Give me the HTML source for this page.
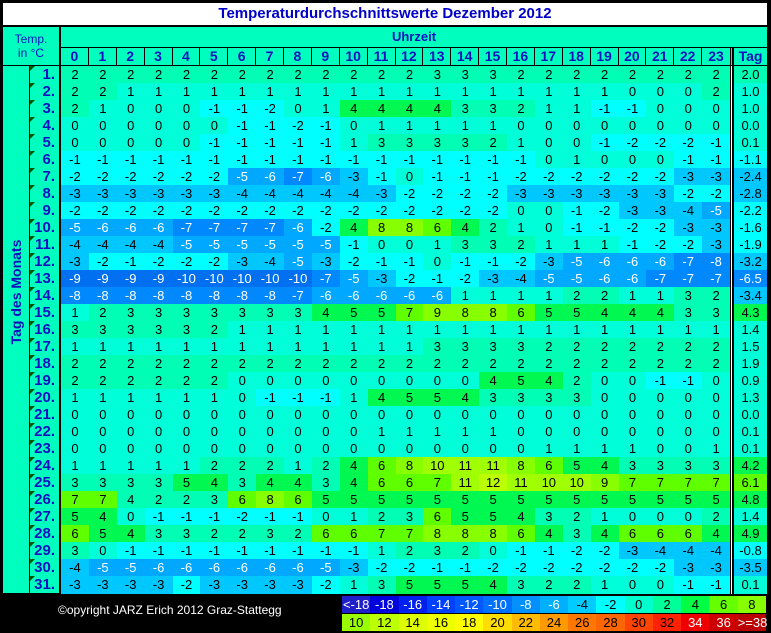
<!DOCTYPE html>
<html><head><meta charset="utf-8"><style>
*{margin:0;padding:0;box-sizing:border-box}
body{width:771px;height:633px;background:#000;position:relative;overflow:hidden;font-family:"Liberation Sans",Arial,sans-serif}
.abs{position:absolute}
#title{left:3px;top:3px;width:764px;height:22px;background:#fff;color:#0000C8;font-weight:bold;font-size:15px;text-align:center;line-height:22px}
#tl{left:3px;top:27px;width:56px;height:38px;background:#00FFBF;color:#1010C0;font-size:12px;text-align:center;line-height:14px;padding-top:5px}
#uz{left:61px;top:27px;width:706px;height:20px;background:#00FFBF;color:#1010C0;font-weight:bold;font-size:13px;text-align:center;line-height:20px}
#hr{left:61px;top:48px;height:17px;display:grid;grid-template-columns:repeat(24,27.875px) 4px 33px}
#hr span{background:#00FFBF;color:#1010C0;font-weight:bold;font-size:14px;text-align:center;line-height:17px;border-right:1px solid #000}
#hr span:nth-child(24){border-right:none}
#hr em{background:linear-gradient(90deg,#000 0 1px,#00FFBF 1px 2px,#000 2px)}
#hr span.tg{border-right:none}
#vl{left:3px;top:66px;width:26px;height:527px;background:#00FFBF}
#vt{left:16px;top:292px;transform:translate(-50%,-50%) rotate(-90deg);color:#1010C0;font-weight:bold;font-size:14px;white-space:nowrap}
.r{position:absolute;left:30px;height:17px;display:grid;grid-template-columns:29px 2px repeat(24,27.875px) 4px 33px;font-size:13px;line-height:17px;text-align:center;color:#000}
.r>b{background:#00FFBF;color:#1010C0;font-size:15px;text-align:right;padding-right:4px;border-bottom:1px solid #000;position:relative;line-height:17px}
.r>b::before{content:"";position:absolute;left:0;top:0;border-top:5px solid #005500;border-right:5px solid transparent}
.r>i{background:#000}
.r>em{background:linear-gradient(90deg,#000 0 1px,#fff 1px 2px,#000 2px)}
.a{background:#0070F0;color:#fff}.b{background:#0088FF;color:#fff}.c{background:#00A8FF;color:#fff}
.d{background:#00C8FF}.e{background:#00FFFF}.f{background:#00FFD8}.g{background:#00FFB4}
.h{background:#00F850}.i{background:#60FF00}.j{background:#88FF00}.k{background:#A0FF00}.l{background:#BBFF00}
#copy{left:58px;top:603px;color:#fff;font-size:12px}
.lg{position:absolute;left:342px;height:17px;display:grid;grid-template-columns:repeat(15,28.27px);font-size:13px;line-height:17px;text-align:center}
.lg span{color:#000}
</style></head><body>
<div id="title" class="abs">Temperaturdurchschnittswerte Dezember 2012</div>
<div id="tl" class="abs">Temp.<br>in °C</div>
<div id="uz" class="abs">Uhrzeit</div>
<div id="hr" class="abs"><span>0</span><span>1</span><span>2</span><span>3</span><span>4</span><span>5</span><span>6</span><span>7</span><span>8</span><span>9</span><span>10</span><span>11</span><span>12</span><span>13</span><span>14</span><span>15</span><span>16</span><span>17</span><span>18</span><span>19</span><span>20</span><span>21</span><span>22</span><span>23</span><em></em><span class="tg">Tag</span></div>
<div id="vl" class="abs"></div>
<div id="vt" class="abs">Tag des Monats</div>

<div class="r" style="top:66px"><b>1.</b><i></i><span class=g>2</span><span class=g>2</span><span class=g>2</span><span class=g>2</span><span class=g>2</span><span class=g>2</span><span class=g>2</span><span class=g>2</span><span class=g>2</span><span class=g>2</span><span class=g>2</span><span class=g>2</span><span class=g>2</span><span class=g>3</span><span class=g>3</span><span class=g>3</span><span class=g>2</span><span class=g>2</span><span class=g>2</span><span class=g>2</span><span class=g>2</span><span class=g>2</span><span class=g>2</span><span class=g>2</span><em></em><span class=g>2.0</span></div>
<div class="r" style="top:83px"><b>2.</b><i></i><span class=g>2</span><span class=g>2</span><span class=f>1</span><span class=f>1</span><span class=f>1</span><span class=f>1</span><span class=f>1</span><span class=f>1</span><span class=f>1</span><span class=f>1</span><span class=f>1</span><span class=f>1</span><span class=f>1</span><span class=f>1</span><span class=f>1</span><span class=f>1</span><span class=f>1</span><span class=f>1</span><span class=f>1</span><span class=f>1</span><span class=f>0</span><span class=f>0</span><span class=f>0</span><span class=g>2</span><em></em><span class=f>1.0</span></div>
<div class="r" style="top:100px"><b>3.</b><i></i><span class=g>2</span><span class=f>1</span><span class=f>0</span><span class=f>0</span><span class=f>0</span><span class=e>-1</span><span class=e>-1</span><span class=e>-2</span><span class=f>0</span><span class=f>1</span><span class=h>4</span><span class=h>4</span><span class=h>4</span><span class=h>4</span><span class=g>3</span><span class=g>3</span><span class=g>2</span><span class=f>1</span><span class=f>1</span><span class=e>-1</span><span class=e>-1</span><span class=f>0</span><span class=f>0</span><span class=f>0</span><em></em><span class=f>1.0</span></div>
<div class="r" style="top:117px"><b>4.</b><i></i><span class=f>0</span><span class=f>0</span><span class=f>0</span><span class=f>0</span><span class=f>0</span><span class=f>0</span><span class=e>-1</span><span class=e>-1</span><span class=e>-2</span><span class=e>-1</span><span class=f>0</span><span class=f>1</span><span class=f>1</span><span class=f>1</span><span class=f>1</span><span class=f>1</span><span class=f>0</span><span class=f>0</span><span class=f>0</span><span class=f>0</span><span class=f>0</span><span class=f>0</span><span class=f>0</span><span class=f>0</span><em></em><span class=f>0.0</span></div>
<div class="r" style="top:134px"><b>5.</b><i></i><span class=f>0</span><span class=f>0</span><span class=f>0</span><span class=f>0</span><span class=f>0</span><span class=e>-1</span><span class=e>-1</span><span class=e>-1</span><span class=e>-1</span><span class=e>-1</span><span class=f>1</span><span class=g>3</span><span class=g>3</span><span class=g>3</span><span class=g>3</span><span class=g>2</span><span class=f>1</span><span class=f>0</span><span class=f>0</span><span class=e>-1</span><span class=e>-2</span><span class=e>-2</span><span class=e>-2</span><span class=e>-1</span><em></em><span class=f>0.1</span></div>
<div class="r" style="top:151px"><b>6.</b><i></i><span class=e>-1</span><span class=e>-1</span><span class=e>-1</span><span class=e>-1</span><span class=e>-1</span><span class=e>-1</span><span class=e>-1</span><span class=e>-1</span><span class=e>-1</span><span class=e>-1</span><span class=e>-1</span><span class=e>-1</span><span class=e>-1</span><span class=e>-1</span><span class=e>-1</span><span class=e>-1</span><span class=e>-1</span><span class=f>0</span><span class=f>1</span><span class=f>0</span><span class=f>0</span><span class=f>0</span><span class=e>-1</span><span class=e>-1</span><em></em><span class=e>-1.1</span></div>
<div class="r" style="top:168px"><b>7.</b><i></i><span class=e>-2</span><span class=e>-2</span><span class=e>-2</span><span class=e>-2</span><span class=e>-2</span><span class=e>-2</span><span class=c>-5</span><span class=c>-6</span><span class=b>-7</span><span class=c>-6</span><span class=d>-3</span><span class=e>-1</span><span class=f>0</span><span class=e>-1</span><span class=e>-1</span><span class=e>-1</span><span class=e>-2</span><span class=e>-2</span><span class=e>-2</span><span class=e>-2</span><span class=e>-2</span><span class=e>-2</span><span class=d>-3</span><span class=d>-3</span><em></em><span class=d>-2.4</span></div>
<div class="r" style="top:185px"><b>8.</b><i></i><span class=d>-3</span><span class=d>-3</span><span class=d>-3</span><span class=d>-3</span><span class=d>-3</span><span class=d>-3</span><span class=d>-4</span><span class=d>-4</span><span class=d>-4</span><span class=d>-4</span><span class=d>-4</span><span class=d>-3</span><span class=e>-2</span><span class=e>-2</span><span class=e>-2</span><span class=e>-2</span><span class=d>-3</span><span class=d>-3</span><span class=d>-3</span><span class=d>-3</span><span class=d>-3</span><span class=d>-3</span><span class=e>-2</span><span class=e>-2</span><em></em><span class=d>-2.8</span></div>
<div class="r" style="top:202px"><b>9.</b><i></i><span class=e>-2</span><span class=e>-2</span><span class=e>-2</span><span class=e>-2</span><span class=e>-2</span><span class=e>-2</span><span class=e>-2</span><span class=e>-2</span><span class=e>-2</span><span class=e>-2</span><span class=e>-2</span><span class=e>-2</span><span class=e>-2</span><span class=e>-2</span><span class=e>-2</span><span class=e>-2</span><span class=f>0</span><span class=f>0</span><span class=e>-1</span><span class=e>-2</span><span class=d>-3</span><span class=d>-3</span><span class=d>-4</span><span class=c>-5</span><em></em><span class=e>-2.2</span></div>
<div class="r" style="top:219px"><b>10.</b><i></i><span class=c>-5</span><span class=c>-6</span><span class=c>-6</span><span class=c>-6</span><span class=b>-7</span><span class=b>-7</span><span class=b>-7</span><span class=b>-7</span><span class=c>-6</span><span class=e>-2</span><span class=h>4</span><span class=j>8</span><span class=j>8</span><span class=i>6</span><span class=h>4</span><span class=g>2</span><span class=f>1</span><span class=f>0</span><span class=e>-1</span><span class=e>-1</span><span class=e>-2</span><span class=e>-2</span><span class=d>-3</span><span class=d>-3</span><em></em><span class=e>-1.6</span></div>
<div class="r" style="top:236px"><b>11.</b><i></i><span class=d>-4</span><span class=d>-4</span><span class=d>-4</span><span class=d>-4</span><span class=c>-5</span><span class=c>-5</span><span class=c>-5</span><span class=c>-5</span><span class=c>-5</span><span class=c>-5</span><span class=e>-1</span><span class=f>0</span><span class=f>0</span><span class=f>1</span><span class=g>3</span><span class=g>3</span><span class=g>2</span><span class=f>1</span><span class=f>1</span><span class=f>1</span><span class=e>-1</span><span class=e>-2</span><span class=e>-2</span><span class=d>-3</span><em></em><span class=e>-1.9</span></div>
<div class="r" style="top:253px"><b>12.</b><i></i><span class=d>-3</span><span class=e>-2</span><span class=e>-1</span><span class=e>-2</span><span class=e>-2</span><span class=e>-2</span><span class=d>-3</span><span class=d>-4</span><span class=c>-5</span><span class=d>-3</span><span class=e>-2</span><span class=e>-1</span><span class=e>-1</span><span class=f>0</span><span class=e>-1</span><span class=e>-1</span><span class=e>-2</span><span class=d>-3</span><span class=c>-5</span><span class=c>-6</span><span class=c>-6</span><span class=c>-6</span><span class=b>-7</span><span class=b>-8</span><em></em><span class=d>-3.2</span></div>
<div class="r" style="top:270px"><b>13.</b><i></i><span class=a>-9</span><span class=a>-9</span><span class=a>-9</span><span class=a>-9</span><span class=a>-10</span><span class=a>-10</span><span class=a>-10</span><span class=a>-10</span><span class=a>-10</span><span class=b>-7</span><span class=c>-5</span><span class=d>-3</span><span class=e>-2</span><span class=e>-1</span><span class=e>-2</span><span class=d>-3</span><span class=d>-4</span><span class=c>-5</span><span class=c>-5</span><span class=c>-6</span><span class=c>-6</span><span class=b>-7</span><span class=b>-7</span><span class=b>-7</span><em></em><span class=b>-6.5</span></div>
<div class="r" style="top:287px"><b>14.</b><i></i><span class=b>-8</span><span class=b>-8</span><span class=b>-8</span><span class=b>-8</span><span class=b>-8</span><span class=b>-8</span><span class=b>-8</span><span class=b>-8</span><span class=b>-7</span><span class=c>-6</span><span class=c>-6</span><span class=c>-6</span><span class=c>-6</span><span class=c>-6</span><span class=f>1</span><span class=f>1</span><span class=f>1</span><span class=f>1</span><span class=g>2</span><span class=g>2</span><span class=f>1</span><span class=f>1</span><span class=g>3</span><span class=g>2</span><em></em><span class=d>-3.4</span></div>
<div class="r" style="top:304px"><b>15.</b><i></i><span class=f>1</span><span class=g>2</span><span class=g>3</span><span class=g>3</span><span class=g>3</span><span class=g>3</span><span class=g>3</span><span class=g>3</span><span class=g>3</span><span class=h>4</span><span class=h>5</span><span class=h>5</span><span class=i>7</span><span class=j>9</span><span class=j>8</span><span class=j>8</span><span class=i>6</span><span class=h>5</span><span class=h>5</span><span class=h>4</span><span class=h>4</span><span class=h>4</span><span class=g>3</span><span class=g>3</span><em></em><span class=h>4.3</span></div>
<div class="r" style="top:321px"><b>16.</b><i></i><span class=g>3</span><span class=g>3</span><span class=g>3</span><span class=g>3</span><span class=g>3</span><span class=g>2</span><span class=f>1</span><span class=f>1</span><span class=f>1</span><span class=f>1</span><span class=f>1</span><span class=f>1</span><span class=f>1</span><span class=f>1</span><span class=f>1</span><span class=f>1</span><span class=f>1</span><span class=f>1</span><span class=f>1</span><span class=f>1</span><span class=f>1</span><span class=f>1</span><span class=f>1</span><span class=f>1</span><em></em><span class=f>1.4</span></div>
<div class="r" style="top:338px"><b>17.</b><i></i><span class=f>1</span><span class=f>1</span><span class=f>1</span><span class=f>1</span><span class=f>1</span><span class=f>1</span><span class=f>1</span><span class=f>1</span><span class=f>1</span><span class=f>1</span><span class=f>1</span><span class=f>1</span><span class=f>1</span><span class=g>3</span><span class=g>3</span><span class=g>3</span><span class=g>3</span><span class=g>2</span><span class=g>2</span><span class=g>2</span><span class=g>2</span><span class=g>2</span><span class=g>2</span><span class=g>2</span><em></em><span class=f>1.5</span></div>
<div class="r" style="top:355px"><b>18.</b><i></i><span class=g>2</span><span class=g>2</span><span class=g>2</span><span class=g>2</span><span class=g>2</span><span class=g>2</span><span class=g>2</span><span class=g>2</span><span class=g>2</span><span class=g>2</span><span class=g>2</span><span class=g>2</span><span class=g>2</span><span class=g>2</span><span class=g>2</span><span class=g>2</span><span class=g>2</span><span class=g>2</span><span class=g>2</span><span class=g>2</span><span class=g>2</span><span class=g>2</span><span class=g>2</span><span class=g>2</span><em></em><span class=f>1.9</span></div>
<div class="r" style="top:372px"><b>19.</b><i></i><span class=g>2</span><span class=g>2</span><span class=g>2</span><span class=g>2</span><span class=g>2</span><span class=g>2</span><span class=f>0</span><span class=f>0</span><span class=f>0</span><span class=f>0</span><span class=f>0</span><span class=f>0</span><span class=f>0</span><span class=f>0</span><span class=f>0</span><span class=h>4</span><span class=h>5</span><span class=h>4</span><span class=g>2</span><span class=f>0</span><span class=f>0</span><span class=e>-1</span><span class=e>-1</span><span class=f>0</span><em></em><span class=f>0.9</span></div>
<div class="r" style="top:389px"><b>20.</b><i></i><span class=f>1</span><span class=f>1</span><span class=f>1</span><span class=f>1</span><span class=f>1</span><span class=f>1</span><span class=f>0</span><span class=e>-1</span><span class=e>-1</span><span class=e>-1</span><span class=f>1</span><span class=h>4</span><span class=h>5</span><span class=h>5</span><span class=h>4</span><span class=g>3</span><span class=g>3</span><span class=g>3</span><span class=g>3</span><span class=f>0</span><span class=f>0</span><span class=f>0</span><span class=f>0</span><span class=f>0</span><em></em><span class=f>1.3</span></div>
<div class="r" style="top:406px"><b>21.</b><i></i><span class=f>0</span><span class=f>0</span><span class=f>0</span><span class=f>0</span><span class=f>0</span><span class=f>0</span><span class=f>0</span><span class=f>0</span><span class=f>0</span><span class=f>0</span><span class=f>0</span><span class=f>0</span><span class=f>0</span><span class=f>0</span><span class=f>0</span><span class=f>0</span><span class=f>0</span><span class=f>0</span><span class=f>0</span><span class=f>0</span><span class=f>0</span><span class=f>0</span><span class=f>0</span><span class=f>0</span><em></em><span class=f>0.0</span></div>
<div class="r" style="top:423px"><b>22.</b><i></i><span class=f>0</span><span class=f>0</span><span class=f>0</span><span class=f>0</span><span class=f>0</span><span class=f>0</span><span class=f>0</span><span class=f>0</span><span class=f>0</span><span class=f>0</span><span class=f>0</span><span class=f>1</span><span class=f>1</span><span class=f>1</span><span class=f>1</span><span class=f>1</span><span class=f>0</span><span class=f>0</span><span class=f>0</span><span class=f>0</span><span class=f>0</span><span class=f>0</span><span class=f>0</span><span class=f>0</span><em></em><span class=f>0.1</span></div>
<div class="r" style="top:440px"><b>23.</b><i></i><span class=f>0</span><span class=f>0</span><span class=f>0</span><span class=f>0</span><span class=f>0</span><span class=f>0</span><span class=f>0</span><span class=f>0</span><span class=f>0</span><span class=f>0</span><span class=f>0</span><span class=f>0</span><span class=f>0</span><span class=f>0</span><span class=f>0</span><span class=f>0</span><span class=f>0</span><span class=f>1</span><span class=f>1</span><span class=f>1</span><span class=f>1</span><span class=f>0</span><span class=f>0</span><span class=f>1</span><em></em><span class=f>0.1</span></div>
<div class="r" style="top:457px"><b>24.</b><i></i><span class=f>1</span><span class=f>1</span><span class=f>1</span><span class=f>1</span><span class=f>1</span><span class=g>2</span><span class=g>2</span><span class=g>2</span><span class=f>1</span><span class=g>2</span><span class=h>4</span><span class=i>6</span><span class=j>8</span><span class=k>10</span><span class=k>11</span><span class=k>11</span><span class=j>8</span><span class=i>6</span><span class=h>5</span><span class=h>4</span><span class=g>3</span><span class=g>3</span><span class=g>3</span><span class=g>3</span><em></em><span class=h>4.2</span></div>
<div class="r" style="top:474px"><b>25.</b><i></i><span class=g>3</span><span class=g>3</span><span class=g>3</span><span class=g>3</span><span class=h>5</span><span class=h>4</span><span class=g>3</span><span class=h>4</span><span class=h>4</span><span class=g>3</span><span class=h>4</span><span class=i>6</span><span class=i>6</span><span class=i>7</span><span class=k>11</span><span class=l>12</span><span class=k>11</span><span class=k>10</span><span class=k>10</span><span class=j>9</span><span class=i>7</span><span class=i>7</span><span class=i>7</span><span class=i>7</span><em></em><span class=i>6.1</span></div>
<div class="r" style="top:491px"><b>26.</b><i></i><span class=i>7</span><span class=i>7</span><span class=g>4</span><span class=g>2</span><span class=g>2</span><span class=g>3</span><span class=i>6</span><span class=j>8</span><span class=i>6</span><span class=h>5</span><span class=h>5</span><span class=h>5</span><span class=h>5</span><span class=h>5</span><span class=h>5</span><span class=h>5</span><span class=h>5</span><span class=h>5</span><span class=h>5</span><span class=h>5</span><span class=h>5</span><span class=h>5</span><span class=h>5</span><span class=h>5</span><em></em><span class=h>4.8</span></div>
<div class="r" style="top:508px"><b>27.</b><i></i><span class=h>5</span><span class=h>4</span><span class=f>0</span><span class=e>-1</span><span class=e>-1</span><span class=e>-1</span><span class=e>-2</span><span class=e>-1</span><span class=e>-1</span><span class=f>0</span><span class=f>1</span><span class=g>2</span><span class=g>3</span><span class=i>6</span><span class=h>5</span><span class=h>5</span><span class=h>4</span><span class=g>3</span><span class=g>2</span><span class=f>1</span><span class=f>0</span><span class=f>0</span><span class=f>0</span><span class=g>2</span><em></em><span class=f>1.4</span></div>
<div class="r" style="top:525px"><b>28.</b><i></i><span class=i>6</span><span class=h>5</span><span class=h>4</span><span class=g>3</span><span class=g>3</span><span class=g>2</span><span class=g>2</span><span class=g>3</span><span class=g>2</span><span class=i>6</span><span class=i>6</span><span class=i>7</span><span class=i>7</span><span class=j>8</span><span class=j>8</span><span class=j>8</span><span class=i>6</span><span class=h>4</span><span class=g>3</span><span class=h>4</span><span class=i>6</span><span class=i>6</span><span class=i>6</span><span class=h>4</span><em></em><span class=h>4.9</span></div>
<div class="r" style="top:542px"><b>29.</b><i></i><span class=g>3</span><span class=f>0</span><span class=e>-1</span><span class=e>-1</span><span class=e>-1</span><span class=e>-1</span><span class=e>-1</span><span class=e>-1</span><span class=e>-1</span><span class=e>-1</span><span class=e>-1</span><span class=f>1</span><span class=g>2</span><span class=g>3</span><span class=g>2</span><span class=f>0</span><span class=e>-1</span><span class=e>-1</span><span class=e>-2</span><span class=e>-2</span><span class=d>-3</span><span class=d>-4</span><span class=d>-4</span><span class=d>-4</span><em></em><span class=e>-0.8</span></div>
<div class="r" style="top:559px"><b>30.</b><i></i><span class=d>-4</span><span class=c>-5</span><span class=c>-5</span><span class=c>-6</span><span class=c>-6</span><span class=c>-6</span><span class=c>-6</span><span class=c>-6</span><span class=c>-6</span><span class=c>-5</span><span class=d>-3</span><span class=e>-2</span><span class=e>-2</span><span class=e>-1</span><span class=e>-1</span><span class=e>-2</span><span class=e>-2</span><span class=e>-2</span><span class=e>-2</span><span class=e>-2</span><span class=e>-2</span><span class=e>-2</span><span class=d>-3</span><span class=d>-3</span><em></em><span class=d>-3.5</span></div>
<div class="r" style="top:576px"><b>31.</b><i></i><span class=d>-3</span><span class=d>-3</span><span class=d>-3</span><span class=d>-3</span><span class=e>-2</span><span class=d>-3</span><span class=d>-3</span><span class=d>-3</span><span class=d>-3</span><span class=e>-2</span><span class=f>1</span><span class=g>3</span><span class=h>5</span><span class=h>5</span><span class=h>5</span><span class=h>4</span><span class=g>3</span><span class=g>2</span><span class=g>2</span><span class=f>1</span><span class=f>0</span><span class=f>0</span><span class=e>-1</span><span class=e>-1</span><em></em><span class=f>0.1</span></div>

<div id="copy" class="abs">©opyright JARZ Erich 2012 Graz-Stattegg</div>
<div class="lg" style="top:596px">
<span style="background:#2020C8;color:#fff">&lt;-18</span><span style="background:#0000DD;color:#fff">-18</span><span style="background:#0020EE;color:#fff">-16</span><span style="background:#0040FF;color:#fff">-14</span><span style="background:#0058FF;color:#fff">-12</span><span style="background:#0070FF;color:#fff">-10</span><span style="background:#0090FF;color:#fff">-8</span><span style="background:#00B0FF;color:#fff">-6</span><span style="background:#00CCFF">-4</span><span style="background:#00FFFF">-2</span><span style="background:#00FFCC">0</span><span style="background:#00FF99">2</span><span style="background:#00FF44">4</span><span style="background:#66FF00">6</span><span style="background:#88FF00">8</span>
</div>
<div class="lg" style="top:614px">
<span style="background:#99FF00">10</span><span style="background:#BBFF00">12</span><span style="background:#DDFF00">14</span><span style="background:#EEFF00">16</span><span style="background:#FFFF00">18</span><span style="background:#FFDD00">20</span><span style="background:#FFBB00">22</span><span style="background:#FF9900">24</span><span style="background:#FF7700">26</span><span style="background:#FF6600">28</span><span style="background:#FF4400">30</span><span style="background:#FF2200">32</span><span style="background:#EE0000;color:#fff">34</span><span style="background:#CC0000;color:#fff">36</span><span style="background:#BB0000;color:#fff">&gt;=38</span>
</div>
</body></html>
